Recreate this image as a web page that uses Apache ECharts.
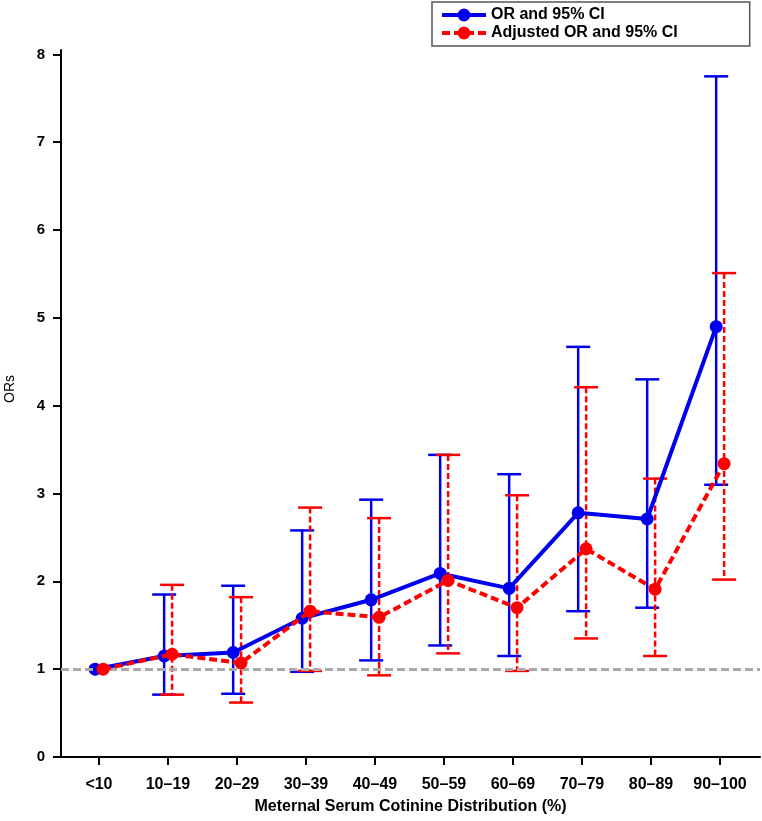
<!DOCTYPE html>
<html>
<head>
<meta charset="utf-8">
<script src="https://cdn.jsdelivr.net/npm/echarts@6/dist/echarts.min.js"></script>
<style>
html,body{margin:0;padding:0;background:#fff;}
#chart{width:762px;height:821px;}
</style>
</head>
<body>
<div id="chart"></div>
<script>
const categories = ['<10','10–19','20–29','30–39','40–49','50–59','60–69','70–79','80–89','90–100'];
const yTicks = [0,1,2,3,4,5,6,7,8];

const orValues = [1.00, 1.15, 1.19, 1.58, 1.79, 2.09, 1.92, 2.78, 2.71, 4.90];
const orLower  = [null, 0.71, 0.72, 0.97, 1.10, 1.27, 1.15, 1.66, 1.70, 3.10];
const orUpper  = [null, 1.85, 1.95, 2.58, 2.93, 3.44, 3.22, 4.67, 4.30, 7.75];

const adjValues = [1.00, 1.17, 1.07, 1.66, 1.59, 2.01, 1.70, 2.37, 1.91, 3.34];
const adjLower  = [null, 0.71, 0.62, 0.98, 0.93, 1.18, 0.98, 1.35, 1.15, 2.02];
const adjUpper  = [null, 1.96, 1.82, 2.84, 2.72, 3.44, 2.98, 4.21, 3.17, 5.51];

const referenceValue = 1;

const BLUE = '#0000ee';
const RED = '#ff0000';
const blueOffset = -0.055;
const redOffset = 0.06;

function pointData(vals, off) {
  return vals.map((v, i) => [i + off, v]);
}
function barData(lo, hi, off) {
  const out = [];
  lo.forEach((l, i) => { if (l != null && hi[i] != null) out.push([i + off, l, hi[i]]); });
  return out;
}
function errRender(color, dashed) {
  return function (params, api) {
    const x = api.value(0), lo = api.value(1), hi = api.value(2);
    const pLo = api.coord([x, lo]);
    const pHi = api.coord([x, hi]);
    const hw = 12;
    return {
      type: 'group',
      children: [
        { type: 'line', shape: { x1: pHi[0], y1: pHi[1], x2: pLo[0], y2: pLo[1] },
          style: { stroke: color, lineWidth: 2.5, lineDash: dashed ? [6, 3] : null } },
        { type: 'line', shape: { x1: pHi[0] - hw, y1: pHi[1], x2: pHi[0] + hw, y2: pHi[1] },
          style: { stroke: color, lineWidth: 2.5 } },
        { type: 'line', shape: { x1: pLo[0] - hw, y1: pLo[1], x2: pLo[0] + hw, y2: pLo[1] },
          style: { stroke: color, lineWidth: 2.5 } }
      ]
    };
  };
}

const chart = echarts.init(document.getElementById('chart'), null, { renderer: 'canvas' });
const font = '"Liberation Sans", Arial, sans-serif';

chart.setOption({
  animation: false,
  backgroundColor: '#fff',
  textStyle: { fontFamily: font },
  legend: {
    data: ['OR and 95% CI', 'Adjusted OR and 95% CI'],
    orient: 'vertical',
    left: 432,
    top: 2,
    padding: [5, 72, 5, 8],
    itemGap: 2,
    itemWidth: 44,
    itemHeight: 16,
    lineStyle: { width: 4 },
    borderColor: '#555',
    borderWidth: 1.5,
    textStyle: { fontFamily: font, fontSize: 16, lineHeight: 16, fontWeight: 'bold', color: '#000' }
  },
  graphic: [{
    type: 'text',
    x: 10,
    y: 389,
    rotation: Math.PI / 2,
    style: { text: 'ORs', fontFamily: font, fontSize: 14, fill: '#000', align: 'center', verticalAlign: 'middle' }
  }],
  grid: { left: 61, right: 2, top: 50, bottom: 64, containLabel: false },
  xAxis: {
    type: 'value',
    min: -0.55,
    max: 9.58,
    splitLine: { show: false },
    name: 'Meternal Serum Cotinine Distribution (%)',
    nameLocation: 'middle',
    nameGap: 42,
    nameTextStyle: { fontFamily: font, fontSize: 16, fontWeight: 'bold', color: '#000' },
    axisLine: { onZero: false, lineStyle: { color: '#000', width: 2 } },
    axisTick: { show: true, length: 8, lineStyle: { color: '#000', width: 2 }, customValues: categories.map((c, i) => i) },
    axisLabel: {
      customValues: categories.map((c, i) => i),
      formatter: v => categories[Math.round(v)],
      margin: 20,
      fontFamily: font, fontSize: 16, fontWeight: 'bold', color: '#000'
    }
  },
  yAxis: {
    type: 'value',
    min: 0,
    max: 8.05,
    splitLine: { show: false },
    axisLine: { show: true, onZero: false, lineStyle: { color: '#000', width: 2 } },
    axisTick: { show: true, length: 8, lineStyle: { color: '#000', width: 2 }, customValues: yTicks },
    axisLabel: {
      customValues: yTicks,
      margin: 16,
      fontFamily: font, fontSize: 15, fontWeight: 'bold', color: '#000'
    }
  },
  series: [
    {
      name: 'OR CI',
      type: 'custom',
      renderItem: errRender(BLUE, false),
      data: barData(orLower, orUpper, blueOffset),
      z: 2,
      markLine: {
        silent: true,
        symbol: ['none', 'none'],
        label: { show: false },
        lineStyle: { color: '#aaaaaa', type: [8, 4], width: 3 },
        data: [{ yAxis: referenceValue }]
      }
    },
    {
      name: 'Adjusted CI',
      type: 'custom',
      renderItem: errRender(RED, true),
      data: barData(adjLower, adjUpper, redOffset),
      z: 3
    },
    {
      name: 'OR and 95% CI',
      type: 'line',
      data: pointData(orValues, blueOffset),
      symbol: 'circle',
      symbolSize: 13,
      color: BLUE,
      itemStyle: { color: BLUE },
      lineStyle: { color: BLUE, width: 4 },
      z: 4
    },
    {
      name: 'Adjusted OR and 95% CI',
      type: 'line',
      data: pointData(adjValues, redOffset),
      symbol: 'circle',
      symbolSize: 13,
      color: RED,
      itemStyle: { color: RED },
      lineStyle: { color: RED, width: 4, type: [8, 4] },
      z: 5
    }
  ]
});
</script>
</body>
</html>
